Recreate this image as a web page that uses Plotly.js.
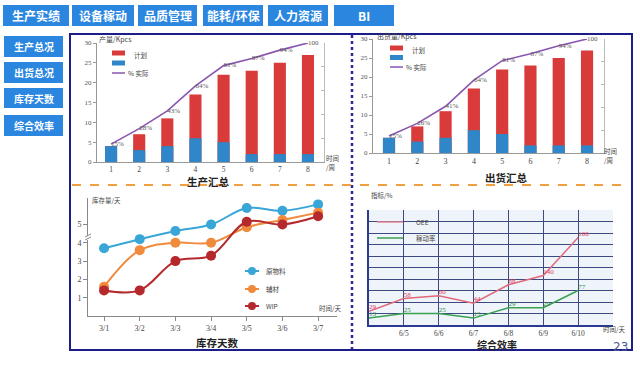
<!DOCTYPE html>
<html><head><meta charset="utf-8">
<script src="https://cdn.plot.ly/plotly-3.0.1.min.js"></script>
<style>html,body{margin:0;padding:0;background:#fff}#c{width:640px;height:372px}</style>
</head><body><div id="c"></div>
<script>
// ---------- data ----------
const tabs = ['生产实绩','设备稼动','品质管理','能耗/环保','人力资源','BI'];
const sideButtons = ['生产总况','出货总况','库存天数','综合效率'];

const weeks = [1,2,3,4,5,6,7,8];
const prodPlan = [4,7,11,17,22,23,25,27];
const prodActual = [4,3,4,6,5,2,2,2];
const prodPct = [15,28,43,64,81,87,94,100];
const prodPctLabels = ['15%','28%','43%','64%','81%','87%','94%','100'];

const shipPlan = [4,7,11,17,22,23,25,27];
const shipActual = [4,3,4,6,5,2,2,2];
const shipPct = [15,26,41,64,81,87,94,100];
const shipPctLabels = ['15%','26%','41%','64%','81%','87%','94%','100'];

const invDates = ['3/1','3/2','3/3','3/4','3/5','3/6','3/7'];
const rawMaterial = [3.7,4.2,4.65,5.0,5.9,5.75,6.1];
const auxMaterial = [1.6,3.6,4.0,4.0,4.85,5.25,5.65];
const wipStock = [1.4,1.4,3.0,3.3,5.15,5.0,5.45];

const effDates = ['6/4','6/5','6/6','6/7','6/8','6/9','6/10'];
const effTickLabels = ['','6/5','6/6','6/7','6/8','6/9','6/10',''];
const oee = [12,23,25.5,19,35,43,76];
const oeeLabels = ['29','58','60','44','88','140','100'];
const utilRate = [6,10,10,6,15,15,30];
const utilLabels = ['13','25','25','13','29','29','77'];

// ---------- helpers ----------
const W = 640, H = 372;
const px = x => x / W, py = y => 1 - y / H;
const CJK = '"Noto Sans CJK SC", sans-serif';
const SERIF = '"Liberation Serif", serif';
const RED = '#d93a3a', BLUE = '#2f86c8', PURPLE = '#8a55b0';

const shapes = [], annotations = [];
function rect(x0,y0,x1,y1,fill,line,lw){shapes.push({type:'rect',xref:'paper',yref:'paper',x0:px(x0),x1:px(x1),y0:py(y0),y1:py(y1),fillcolor:fill,line:{color:line||fill,width:lw||0},layer:'below'});}
function seg(x0,y0,x1,y1,color,w,dash){shapes.push({type:'line',xref:'paper',yref:'paper',x0:px(x0),x1:px(x1),y0:py(y0),y1:py(y1),line:{color:color,width:w,dash:dash||'solid'}});}
function circ(cx,cy,r,color){shapes.push({type:'circle',xref:'paper',yref:'paper',x0:px(cx-r),x1:px(cx+r),y0:py(cy+r),y1:py(cy-r),fillcolor:color,line:{color:color,width:0}});}
function txt(x,y,t,size,color,anchor,font,bold){annotations.push({xref:'paper',yref:'paper',x:px(x),y:py(y),text:bold?'<b>'+t+'</b>':t,showarrow:false,xanchor:anchor||'center',yanchor:'middle',borderpad:0,font:{size:size,color:color||'#333',family:font||CJK}});}

// tabs
const tabX = [[3,69],[72,134],[138,197],[203,263],[268,328],[334,394]];
tabs.forEach((t,i)=>{rect(tabX[i][0],5,tabX[i][1],26,'#2a86df');txt((tabX[i][0]+tabX[i][1])/2,15.5,t,12,'#fff',null,CJK,true);});
// side buttons
const btnY = [[36,57],[62,83],[88,108],[115,136]];
sideButtons.forEach((t,i)=>{rect(4,btnY[i][0],63,btnY[i][1],'#2a86df');txt(33.5,(btnY[i][0]+btnY[i][1])/2,t,10,'#fff',null,CJK,true);});

// frame & dividers
shapes.push({type:'rect',xref:'paper',yref:'paper',x0:px(70),x1:px(632),y0:py(350),y1:py(34),line:{color:'#1c1c8a',width:2},fillcolor:'rgba(0,0,0,0)'});
seg(352,35,352,349,'#2a2a9a',2.5,'dot');
seg(72,185,630,185,'#f0a040',2,'dash');

// chart titles
txt(208,181.5,'生产汇总',10.5,'#222',null,CJK,true);
txt(506,177,'出货汇总',10.5,'#222',null,CJK,true);
txt(217,342,'库存天数',10.5,'#222',null,CJK,true);
txt(497,344.5,'综合效率',10,'#222',null,CJK,true);

// axis captions
txt(98,39,'产量/Kpcs',7,'#444','left');
txt(376,36,'出货量/Kpcs',7,'#444','left');
txt(325,158,'时间',6.5,'#444','left'); txt(325,167,'/周',6.5,'#444','left');
txt(603,151,'时间',6.5,'#444','left'); txt(603,160,'/周',6.5,'#444','left');
txt(91,200,'库存量/天',6.5,'#444','left');
txt(318,308,'时间/天',6.5,'#444','left');
txt(370,195,'指标/%',6.5,'#444','left');
txt(602,329,'时间/天',6.5,'#444','left');
txt(620,347,'23',12,'#4a5a90','center','"DejaVu Sans", sans-serif');

// axis break mark on inventory y axis
shapes.push({type:'rect',xref:'paper',yref:'paper',x0:px(86),x1:px(90),y0:py(240),y1:py(236),fillcolor:'#fff',line:{width:0}});
seg(85,240,91,237,'#888',1); seg(85,237,91,234,'#888',1);

// legends chart 1 & 2
function barLegend(x,y,rowGap){
  rect(x,y-2.5,x+13,y+2.5,RED); txt(x+21,y+2,'计划',6.5,'#444','left');
  rect(x,y+rowGap-2.5,x+13,y+rowGap+2.5,BLUE);
  seg(x,y+2*rowGap,x+13,y+2*rowGap,PURPLE,1.5); txt(x+15,y+2*rowGap,'% 实际',6.5,'#444','left');
}
barLegend(112,53,10);
barLegend(390,48,9.5);
// legend chart 3
const invColors = ['#38a6d6','#f08a3c','#b5282c'];
const invNames = ['原物料','辅材','WIP'];
[271,289,306].forEach((y,i)=>{seg(245,y,259,y,invColors[i],2);circ(252,y,4,invColors[i]);txt(265,y,invNames[i],6.5,'#444','left');});
// legend chart 4
seg(377,222,403,222,'#e58a96',1.5); txt(415,222,'OEE',6.5,'#444','left');
seg(377,238,403,238,'#3aa050',1.5); txt(415,238,'稼动率',6.5,'#444','left');

// ---------- traces ----------
const idx = effDates.map((d,i)=>i);
const data = [
  {type:'bar',x:weeks,y:prodPlan,xaxis:'x',yaxis:'y',marker:{color:RED},width:0.43},
  {type:'bar',x:weeks,y:prodActual,xaxis:'x',yaxis:'y',marker:{color:BLUE},width:0.43},
  {type:'scatter',mode:'lines+text',x:weeks,y:prodPct,xaxis:'x',yaxis:'y2',line:{color:PURPLE,width:1.6},text:prodPctLabels,textposition:'middle right',textfont:{size:7,color:'#555',family:SERIF},cliponaxis:false},
  {type:'bar',x:weeks,y:shipPlan,xaxis:'x2',yaxis:'y3',marker:{color:RED},width:0.43},
  {type:'bar',x:weeks,y:shipActual,xaxis:'x2',yaxis:'y3',marker:{color:BLUE},width:0.43},
  {type:'scatter',mode:'lines+text',x:weeks,y:shipPct,xaxis:'x2',yaxis:'y4',line:{color:PURPLE,width:1.6},text:shipPctLabels,textposition:'middle right',textfont:{size:7,color:'#555',family:SERIF},cliponaxis:false},
  {type:'scatter',mode:'lines+markers',x:invDates,y:rawMaterial,xaxis:'x3',yaxis:'y5',line:{color:invColors[0],width:2,shape:'spline',smoothing:1},marker:{size:10,color:invColors[0]},cliponaxis:false},
  {type:'scatter',mode:'lines+markers',x:invDates,y:auxMaterial,xaxis:'x3',yaxis:'y5',line:{color:invColors[1],width:2,shape:'spline',smoothing:1},marker:{size:10,color:invColors[1]},cliponaxis:false},
  {type:'scatter',mode:'lines+markers',x:invDates,y:wipStock,xaxis:'x3',yaxis:'y5',line:{color:invColors[2],width:2,shape:'spline',smoothing:1},marker:{size:10,color:invColors[2]},cliponaxis:false},
  {type:'scatter',mode:'lines+text',x:idx,y:oee,xaxis:'x4',yaxis:'y6',line:{color:'#e06a7a',width:1.5},text:oeeLabels,textposition:'top right',textfont:{size:7,color:'#e0405a',family:SERIF},cliponaxis:false},
  {type:'scatter',mode:'lines+text',x:idx,y:utilRate,xaxis:'x4',yaxis:'y6',line:{color:'#3aa050',width:1.5},text:utilLabels,textposition:'top right',textfont:{size:7,color:'#2f8f45',family:SERIF},cliponaxis:false}
];

const tickF = {size:8,color:'#444',family:SERIF};
const tickS = {size:7.5,color:'#444',family:SERIF};
const smallF = {size:7,color:'#555',family:SERIF};
const layout = {
  width:W,height:H,margin:{l:0,r:0,t:0,b:0},paper_bgcolor:'#fff',plot_bgcolor:'rgba(0,0,0,0)',
  showlegend:false,barmode:'overlay',hovermode:false,
  xaxis:{domain:[px(97),px(324)],anchor:'y',range:[0.5,8.57],tickvals:weeks,showgrid:false,zeroline:false,showline:true,linecolor:'#999',ticks:'',tickfont:tickS},
  yaxis:{domain:[py(162),py(43)],anchor:'x',range:[0,30],dtick:5,showgrid:false,zeroline:false,showline:true,linecolor:'#999',ticks:'outside',ticklen:3,tickcolor:'#999',tickfont:smallF},
  yaxis2:{overlaying:'y',anchor:'x',side:'right',range:[0,100],tickvals:[0,20,40,60,80,100],showticklabels:false,showgrid:false,zeroline:false,showline:true,linecolor:'#bbb',ticks:'inside',ticklen:3,tickcolor:'#bbb'},
  xaxis2:{domain:[px(373),px(604)],anchor:'y3',range:[0.434,8.6],tickvals:weeks,showgrid:false,zeroline:false,showline:true,linecolor:'#999',ticks:'',tickfont:tickF},
  yaxis3:{domain:[py(153),py(39)],anchor:'x2',range:[0,30],dtick:5,showgrid:false,zeroline:false,showline:true,linecolor:'#999',ticks:'outside',ticklen:3,tickcolor:'#999',tickfont:smallF},
  yaxis4:{overlaying:'y3',anchor:'x2',side:'right',range:[0,100],tickvals:[0,20,40,60,80,100],showticklabels:false,showgrid:false,zeroline:false,showline:true,linecolor:'#bbb',ticks:'inside',ticklen:3,tickcolor:'#bbb'},
  xaxis3:{domain:[px(88),px(337)],anchor:'y5',type:'category',range:[-0.45,6.53],showgrid:false,zeroline:false,showline:true,linecolor:'#888',ticks:'outside',ticklen:4,tickcolor:'#888',tickfont:tickF},
  yaxis5:{domain:[py(316),py(198)],anchor:'x3',range:[0,6.45],tickvals:[1,2,3,4,5],showgrid:false,zeroline:false,showline:true,linecolor:'#888',ticks:'outside',ticklen:4,tickcolor:'#888',tickfont:tickF},
  xaxis4:{domain:[px(369),px(613)],anchor:'y6',range:[0,7],tickvals:effTickLabels.map((t,i)=>i),ticktext:effTickLabels,showgrid:true,gridcolor:'#3d4a80',gridwidth:1,zeroline:false,showline:true,linecolor:'#2b3990',linewidth:2,ticks:'',tickfont:tickS},
  yaxis6:{domain:[py(325),py(210)],anchor:'x4',range:[0,100],dtick:10,showticklabels:false,showgrid:true,gridcolor:'#3d4a80',gridwidth:1,zeroline:false,showline:true,linecolor:'#2b3990',linewidth:2,ticks:''},
  shapes:shapes,annotations:annotations
};
shapes.unshift({type:'rect',xref:'paper',yref:'paper',x0:px(369),x1:px(613),y0:py(325),y1:py(210),fillcolor:'#eef4fa',line:{width:0},layer:'below'});
Plotly.newPlot('c',data,layout,{staticPlot:true});
</script></body></html>
